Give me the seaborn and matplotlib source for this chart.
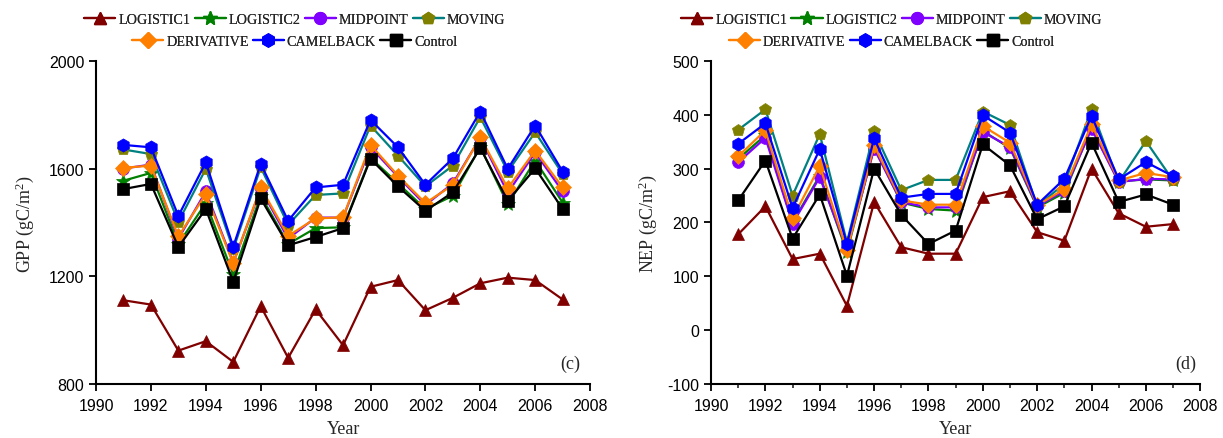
import matplotlib
matplotlib.use("Agg")
import matplotlib.pyplot as plt
import seaborn as sns
import pandas as pd
from matplotlib.lines import Line2D

years = list(range(1991, 2008))

series_names = ["LOGISTIC1", "LOGISTIC2", "MIDPOINT", "MOVING", "DERIVATIVE", "CAMELBACK", "Control"]

gpp_logistic1 = [1111, 1095, 924, 959, 882, 1089, 897, 1077, 944, 1161, 1186, 1074, 1120, 1174, 1195, 1186, 1114]
gpp_logistic2 = [1555, 1584, 1320, 1472, 1207, 1500, 1320, 1379, 1382, 1640, 1545, 1450, 1499, 1680, 1468, 1630, 1474]
gpp_midpoint = [1600, 1615, 1340, 1515, 1250, 1525, 1340, 1418, 1418, 1680, 1570, 1465, 1545, 1715, 1510, 1660, 1515]
gpp_moving = [1671, 1654, 1402, 1599, 1300, 1605, 1391, 1502, 1508, 1760, 1648, 1534, 1611, 1791, 1589, 1735, 1580]
gpp_derivative = [1603, 1611, 1348, 1505, 1248, 1530, 1350, 1415, 1419, 1688, 1574, 1472, 1539, 1717, 1527, 1667, 1530]
gpp_camelback = [1688, 1679, 1424, 1623, 1310, 1618, 1406, 1530, 1540, 1781, 1679, 1540, 1638, 1812, 1599, 1760, 1589]
gpp_control = [1524, 1543, 1309, 1450, 1179, 1489, 1315, 1346, 1379, 1636, 1534, 1443, 1512, 1677, 1480, 1601, 1450]

nep_logistic1 = [178, 230, 132, 142, 45, 238, 154, 142, 142, 247, 258, 182, 166, 300, 217, 192, 197]
nep_logistic2 = [318, 362, 200, 287, 145, 340, 237, 225, 222, 370, 338, 228, 255, 376, 276, 280, 278]
nep_midpoint = [312, 357, 198, 284, 150, 337, 238, 228, 228, 368, 340, 230, 259, 374, 275, 281, 280]
nep_moving = [372, 410, 250, 364, 163, 369, 260, 279, 279, 406, 381, 230, 272, 410, 275, 351, 278]
nep_derivative = [323, 371, 208, 305, 148, 343, 241, 233, 233, 379, 348, 232, 262, 382, 278, 292, 284]
nep_camelback = [346, 384, 227, 336, 160, 356, 246, 253, 253, 399, 367, 233, 281, 398, 280, 312, 286]
nep_control = [241, 315, 170, 252, 101, 300, 214, 160, 185, 345, 306, 206, 230, 348, 238, 252, 233]

gpp = [gpp_logistic1, gpp_logistic2, gpp_midpoint, gpp_moving, gpp_derivative, gpp_camelback, gpp_control]
nep = [nep_logistic1, nep_logistic2, nep_midpoint, nep_moving, nep_derivative, nep_camelback, nep_control]

line_colors = ["#800000", "#008000", "#8000FF", "#008080", "#FF8000", "#0000FF", "#000000"]
marker_colors = ["#800000", "#008000", "#8000FF", "#808000", "#FF8000", "#0000FF", "#000000"]
markers = ["^", "*", "o", "p", "D", "h", "s"]
msizes = [9, 10, 8.5, 9, 8, 9.5, 8]

sns.set_theme(style="white")
plt.rcParams["font.family"] = ["Liberation Sans", "DejaVu Sans"]
plt.rcParams["mathtext.fontset"] = "stix"
plt.rcParams["axes.unicode_minus"] = False

fig = plt.figure(figsize=(12.23, 4.39), dpi=100)
ax1 = fig.add_axes([0.0785, 0.123, 0.404, 0.736])
ax2 = fig.add_axes([0.5814, 0.123, 0.400, 0.736])

serif = ["Liberation Serif", "DejaVu Serif"]

def draw(ax, data):
    for i, name in enumerate(series_names):
        df = pd.DataFrame({"Year": years, "value": data[i]})
        sns.lineplot(data=df, x="Year", y="value", ax=ax, color=line_colors[i],
                     marker=markers[i], markersize=msizes[i],
                     markerfacecolor=marker_colors[i], markeredgecolor=marker_colors[i],
                     markeredgewidth=0.5, linewidth=1.6, label=name, legend=False)
    for s in ["top", "right"]:
        ax.spines[s].set_visible(False)
    for s in ["left", "bottom"]:
        ax.spines[s].set_linewidth(1.5)
        ax.spines[s].set_color("black")
    ax.set_xlim(1990, 2008)
    ax.set_xticks(range(1990, 2009, 2))
    ax.tick_params(axis="both", which="major", direction="out", length=5, width=1.3,
                   labelsize=11.5, colors="black", left=True, bottom=True)
    ax.tick_params(axis="x", which="major", pad=5)
    ax.set_xlabel("Year", fontfamily=serif, fontsize=13, labelpad=5)

draw(ax1, gpp)
draw(ax2, nep)

ax1.set_ylim(800, 2000)
ax1.set_yticks([800, 1200, 1600, 2000])
ax1.set_ylabel("GPP (gC/m$^\\mathregular{2}$)", fontfamily=serif, fontsize=13, labelpad=9)
ax1.text(0.96, 0.065, "(c)", transform=ax1.transAxes, fontfamily=serif, fontsize=13, ha="center", va="center")

ax2.set_ylim(-100, 500)
ax2.set_yticks(range(-100, 501, 100))
ax2.set_xticks(range(1991, 2008, 2), minor=True)
ax2.tick_params(axis="x", which="minor", direction="out", length=3, width=1.2, bottom=True)
ax2.set_ylabel("NEP (gC/m$^\\mathregular{2}$)", fontfamily=serif, fontsize=13, labelpad=6)
ax2.text(0.97, 0.065, "(d)", transform=ax2.transAxes, fontfamily=serif, fontsize=13, ha="center", va="center")

handles = [Line2D([], [], color=line_colors[i], marker=markers[i], markersize=msizes[i],
                  markerfacecolor=marker_colors[i], markeredgecolor=marker_colors[i],
                  linewidth=1.6) for i in range(7)]

for cx in [0.241, 0.729]:
    leg1 = fig.legend(handles[:4], series_names[:4], loc="center", bbox_to_anchor=(cx, 0.953),
                      ncol=4, frameon=False, prop={"family": serif, "size": 10.2},
                      handlelength=2.2, columnspacing=0.3, handletextpad=0.2, borderpad=0)
    fig.add_artist(leg1)
    leg2 = fig.legend(handles[4:], series_names[4:], loc="center", bbox_to_anchor=(cx, 0.903),
                      ncol=3, frameon=False, prop={"family": serif, "size": 10.2},
                      handlelength=2.2, columnspacing=0.3, handletextpad=0.2, borderpad=0)
    fig.add_artist(leg2)

fig.savefig("out.png", dpi=100)
